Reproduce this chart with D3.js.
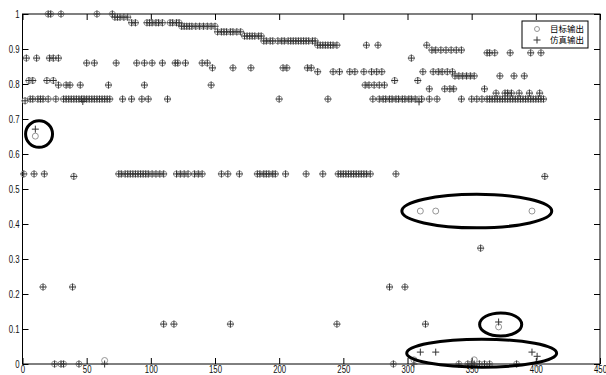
<!DOCTYPE html>
<html>
<head>
<meta charset="utf-8">
<script src="https://cdn.jsdelivr.net/npm/d3@7"></script>
<style>
  html, body { margin: 0; padding: 0; background: #fff; }
  svg { display: block; }
</style>
</head>
<body>
<div id="chart"></div>
<script>
// sample output vs simulated output, matlab style 'o' / '+' scatter
// rows where target and simulation agree are grouped by level

const xTicks = [0, 50, 100, 150, 200, 250, 300, 350, 400, 450];
const yTicks = [0, 0.1, 0.2, 0.3, 0.4, 0.5, 0.6, 0.7, 0.8, 0.9, 1];
const legendLabels = ['目标输出', '仿真输出'];

// sample indices at each level (target == simulated)
const lv1000 = [20, 22, 30, 58, 70];
const lv0991 = [72, 74, 76, 79, 82];
const lv0975 = [85, 88, 97, 99, 101, 104, 106, 109, 115, 117, 120, 122];
const lv0965 = [124, 126, 128, 130, 132, 135, 138, 141, 144, 147, 150];
const lv0949 = [152, 155, 157, 159, 162, 164, 167, 170];
const lv0937 = [173, 175, 177, 179, 181, 184, 186];
const lv0923 = [188, 190, 193, 195, 199, 202, 204, 207, 209, 211, 213, 215, 217, 219, 221, 223, 226, 228];
const lv0911 = [230, 232, 234, 236, 238, 240, 242, 245, 268, 277, 315];
const lv0897 = [319, 322, 326, 330, 334, 338, 342];
const lv0889 = [362, 364, 368, 380, 396, 404];
const lv0874 = [3, 11, 21, 24, 28, 303];
const lv0860 = [50, 56, 73, 89, 95, 101, 109, 119, 121, 127, 140, 144];
const lv0846 = [148, 164, 178, 203, 206, 222, 225];
const lv0835 = [230, 242, 247, 255, 259, 266, 272, 276, 280, 312, 320, 324, 327, 331, 335];
const lv0823 = [337, 340, 343, 346, 349, 352, 372, 383, 391];
const lv0810 = [5, 8, 19, 24, 290, 308];
const lv0797 = [28, 34, 37, 45, 67, 95, 147, 267, 270, 274, 278, 282];
const lv0786 = [317, 329, 333, 336, 360];
const lv0774 = [369, 376, 378, 381, 387, 395, 403];
const lv0757 = [6, 8, 12, 14, 16, 20, 26, 32, 34, 36, 38, 40, 42, 44, 46, 48, 50, 52, 54, 56,
  58, 60, 62, 64, 66, 68, 78, 85, 93, 98, 113, 200, 238, 273, 278, 281, 283, 286, 288, 291,
  293, 296, 298, 301, 303, 306, 311, 317, 323, 342, 350, 354, 358, 362, 364, 366, 368, 370,
  372, 374, 376, 378, 380, 382, 384, 386, 388, 390, 392, 394, 396, 398, 400, 402, 404, 406];
const lv0752 = [2];
const lv0543 = [1, 9, 17, 75, 77, 80, 82, 84, 86, 88, 90, 92, 94, 96, 98, 101, 104, 107, 110,
  120, 123, 126, 129, 134, 137, 140, 155, 160, 169, 183, 185, 188, 190, 192, 195, 197, 205,
  221, 234, 246, 248, 250, 252, 254, 256, 258, 260, 262, 264, 266, 268, 271, 291];
const lv0536 = [40, 407];
const lv0331 = [357];
const lv0220 = [16, 39, 286, 298];
const lv0114 = [110, 118, 162, 245, 314];
const lv0000 = [25, 30, 32, 44, 289, 340, 347, 350, 356, 360, 364, 385];

const levels = [1.0, 0.991, 0.975, 0.965, 0.949, 0.937, 0.923, 0.911, 0.897, 0.889, 0.874,
  0.86, 0.846, 0.835, 0.823, 0.81, 0.797, 0.786, 0.774, 0.757, 0.752, 0.543, 0.536, 0.331,
  0.22, 0.114, 0];
const levelIdx = [lv1000, lv0991, lv0975, lv0965, lv0949, lv0937, lv0923, lv0911, lv0897,
  lv0889, lv0874, lv0860, lv0846, lv0835, lv0823, lv0810, lv0797, lv0786, lv0774, lv0757,
  lv0752, lv0543, lv0536, lv0331, lv0220, lv0114, lv0000];

// samples where the two outputs differ
const diffIdx = [10, 310, 322, 397, 371, 47, 309, 401, 64, 305, 352];
const diffTarget = [0.651, 0.437, 0.437, 0.437, 0.106, 0.757, 0.757, 0, 0.01, 0.012, 0.012];
const diffSim = [0.671, 0.034, 0.034, 0.034, 0.12, 0.75, 0.749, 0.022, 0, 0, 0];

// hand drawn ellipses (data units: centre x, centre y, radius x, radius y)
const ringCx = [12.9, 354, 372.6, 357.8];
const ringCy = [0.657, 0.437, 0.113, 0.031];
const ringRx = [10.5, 58.4, 16.4, 58.4];
const ringRy = [0.038, 0.048, 0.033, 0.04];

// build the point table
const points = [];
levels.forEach((lv, i) => {
  levelIdx[i].forEach(k => points.push({ idx: k, target: lv, sim: lv }));
});
diffIdx.forEach((k, i) => points.push({ idx: k, target: diffTarget[i], sim: diffSim[i] }));

const W = 606, H = 375;
const plot = { left: 22.5, right: 600, top: 14, bottom: 364 };

const svg = d3.select('#chart').append('svg')
  .attr('width', W)
  .attr('height', H);

svg.append('rect').attr('width', W).attr('height', H).attr('fill', '#fff');

const x = d3.scaleLinear().domain([0, 450]).range([plot.left, plot.right]);
const y = d3.scaleLinear().domain([0, 1]).range([plot.bottom, plot.top]);

const fmt = d => (d === 0 || d === 1) ? String(d) : d3.format('.1f')(d);

// axes, ticks point inward like matlab
const axB = svg.append('g')
  .attr('transform', `translate(0,${plot.bottom})`)
  .call(d3.axisBottom(x).tickValues(xTicks).tickSize(-6).tickPadding(2).tickFormat(d3.format('d')));
const axT = svg.append('g')
  .attr('transform', `translate(0,${plot.top})`)
  .call(d3.axisTop(x).tickValues(xTicks).tickSize(-6).tickFormat(''));
const axL = svg.append('g')
  .attr('transform', `translate(${plot.left},0)`)
  .call(d3.axisLeft(y).tickValues(yTicks).tickSize(-6).tickPadding(3).tickFormat(fmt));
const axR = svg.append('g')
  .attr('transform', `translate(${plot.right},0)`)
  .call(d3.axisRight(y).tickValues(yTicks).tickSize(-6).tickFormat(''));

[axB, axT, axL, axR].forEach(g => {
  g.select('.domain').remove();
  g.selectAll('line').attr('stroke', '#000').attr('stroke-width', 1);
  g.selectAll('text')
    .attr('fill', '#111')
    .style('font-family', 'Liberation Sans, Arial, sans-serif')
    .style('font-size', '10px');
});
// narrow tick labels
axB.selectAll('text').attr('transform', 'scale(0.78,1)');
axL.selectAll('text').each(function () {
  const t = d3.select(this);
  t.attr('transform', 'scale(0.78,1)').attr('x', +t.attr('x') / 0.78);
});

svg.append('rect')
  .attr('x', plot.left).attr('y', plot.top)
  .attr('width', plot.right - plot.left).attr('height', plot.bottom - plot.top)
  .attr('fill', 'none').attr('stroke', '#000').attr('stroke-width', 1);

// target output circles
svg.append('g').selectAll('circle')
  .data(points)
  .join('circle')
  .attr('cx', d => x(d.idx))
  .attr('cy', d => y(d.target))
  .attr('r', 3)
  .attr('fill', 'none')
  .attr('stroke', '#8a8a8a')
  .attr('stroke-width', 0.9);

// simulated output pluses
const plus = 'M-3.5,0H3.5M0,-3.5V3.5';
svg.append('g').selectAll('path')
  .data(points)
  .join('path')
  .attr('transform', d => `translate(${x(d.idx)},${y(d.sim)})`)
  .attr('d', plus)
  .attr('fill', 'none')
  .attr('stroke', '#333')
  .attr('stroke-width', 1);

// annotation ellipses
svg.append('g').selectAll('ellipse')
  .data(ringCx)
  .join('ellipse')
  .attr('cx', (d, i) => x(d))
  .attr('cy', (d, i) => y(ringCy[i]))
  .attr('rx', (d, i) => x(d + ringRx[i]) - x(d))
  .attr('ry', (d, i) => y(ringCy[i] - ringRy[i]) - y(ringCy[i]))
  .attr('fill', 'none')
  .attr('stroke', '#000')
  .attr('stroke-width', 3);

// legend
const legend = svg.append('g').attr('transform', 'translate(522,21)');
legend.append('rect')
  .attr('width', 66).attr('height', 27)
  .attr('fill', '#fff').attr('stroke', '#000').attr('stroke-width', 1);
legend.append('circle')
  .attr('cx', 15).attr('cy', 8).attr('r', 2.5)
  .attr('fill', 'none').attr('stroke', '#8a8a8a').attr('stroke-width', 0.9);
legend.append('path')
  .attr('transform', 'translate(15,19)')
  .attr('d', plus)
  .attr('stroke', '#333').attr('stroke-width', 1);
legendLabels.forEach((lab, i) => {
  legend.append('text')
    .attr('x', 28)
    .attr('y', 8 + i * 11)
    .attr('dy', '0.35em')
    .style('font-family', 'Noto Sans CJK SC, sans-serif')
    .style('font-size', '8.5px')
    .attr('fill', '#000')
    .text(lab);
});
</script>
</body>
</html>
